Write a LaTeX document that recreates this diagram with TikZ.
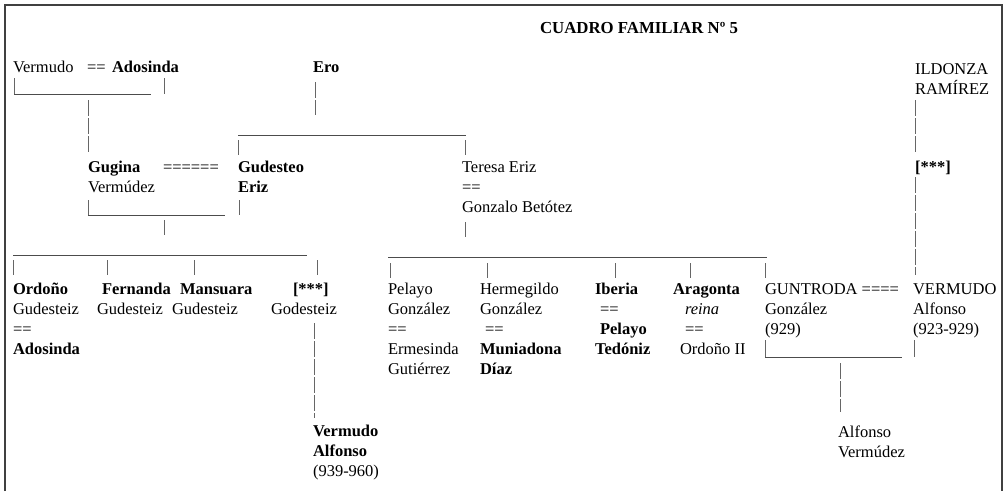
\documentclass[tikz,border=0pt]{standalone}
\usepackage{fontspec}
\setmainfont{Liberation Serif}
\begin{document}
\begin{tikzpicture}[x=1pt,y=-1pt,
  % multi-line nodes are placed by the baseline of their last line
  txt/.style={anchor=base west, inner sep=0pt, outer sep=0pt, align=left,
    font=\fontsize{16.5}{20}\selectfont, text=black},
  bold/.style={txt, font=\fontsize{16.5}{20}\selectfont\bfseries},
  bar/.style={line width=0.8pt, draw=black!70},
  tick/.style={line width=0.7pt, draw=black!60},
  ticks/.style={tick, dash pattern=on 16pt off 2pt},
  frame/.style={line width=1.3pt, draw=black!75}]
\useasboundingbox (0,0) rectangle (1008,491);

% open frame
\coordinate (fbl) at (5,491);
\coordinate (ftl) at (5,5);
\coordinate (ftr) at (1002,5);
\coordinate (fbr) at (1002,491);
\draw[frame] (fbl) -- (ftl) -- (ftr) -- (fbr);

% title
\node[txt, font=\fontsize{16.8}{20}\selectfont\bfseries] (title) at (540,33) {CUADRO FAMILIAR Nº 5};

% first generation
\node[txt]  (vermudo)  at (13,72)  {Vermudo};
\node[txt]  (eqA)      at (87,72)  {==};
\node[bold] (adosinda) at (112,72) {Adosinda};
\node[bold] (ero)      at (313,72) {Ero};
\node[txt]  (ildonza)  at (915,94) {ILDONZA\\RAMÍREZ};

% second generation
\node[txt]  (gugina)   at (88,192)  {\textbf{Gugina}\\Vermúdez};
\node[txt]  (eqB)      at (163,172) {======};
\node[bold] (gudesteo) at (238,192) {Gudesteo\\Eriz};
\node[txt]  (teresa)   at (462,212) {Teresa Eriz\\==\\Gonzalo Betótez};
\node[bold] (anonR)    at (915,172) {[***]};

% third generation
\node[txt] (ordono)   at (13,354)  {\textbf{Ordoño}\\Gudesteiz\\==\\\textbf{Adosinda}};
\node[txt] (fernanda) at (97,314)  {\hspace*{5pt}\textbf{Fernanda}\\Gudesteiz};
\node[txt] (mansuara) at (172,314) {\hspace*{8pt}\textbf{Mansuara}\\Gudesteiz};
\node[txt] (anonL)    at (271,314) {\hspace*{22pt}\textbf{[***]}\\Godesteiz};
\node[bold] (vermudoA) at (313,476) {Vermudo\\Alfonso\\\mdseries(939-960)};

\node[txt] (pelayo)     at (388,374) {Pelayo\\González\\==\\Ermesinda\\Gutiérrez};
\node[txt] (hermegildo) at (480,374) {Hermegildo\\González\\\hspace*{5pt}==\\\textbf{Muniadona}\\\textbf{Díaz}};
\node[txt] (iberia)     at (595,354) {\textbf{Iberia}\\\hspace*{5pt}==\\\hspace*{5pt}\textbf{Pelayo}\\\textbf{Tedóniz}};
\node[txt] (aragonta)   at (673,354) {\textbf{Aragonta}\\\hspace*{12pt}\textit{reina}\\\hspace*{12pt}==\\\hspace*{7pt}Ordoño II};
\node[txt] (guntroda)   at (765,334) {GUNTRODA ====\\González\\(929)};
\node[txt] (vermudoB)   at (913,334) {VERMUDO\\Alfonso\\(923-929)};
\node[txt] (alfonso)    at (838,457) {Alfonso\\Vermúdez};

% Vermudo == Adosinda
\coordinate (a1) at (14,78);  \coordinate (a2) at (14,94);
\coordinate (a3) at (151,94); \coordinate (a4) at (164,78); \coordinate (a5) at (164,94);
\draw[tick] (a1) -- (a2);
\draw[bar] (a2) -- (a3);
\draw[tick] (a4) -- (a5);
\coordinate (a6) at (88,100); \coordinate (a7) at (88,152);
\draw[ticks] (a6) -- (a7);

% Ero and children
\coordinate (e1) at (315,82); \coordinate (e2) at (315,115);
\draw[ticks] (e1) -- (e2);
\coordinate (e3) at (238,135); \coordinate (e4) at (466,135);
\draw[bar] (e3) -- (e4);
\coordinate (e5) at (238,140); \coordinate (e6) at (238,155);
\coordinate (e7) at (465,140); \coordinate (e8) at (465,155);
\draw[tick] (e5) -- (e6);
\draw[tick] (e7) -- (e8);

% Gugina == Gudesteo
\coordinate (g1) at (88,200);  \coordinate (g2) at (88,215);
\coordinate (g3) at (225,215); \coordinate (g4) at (239,200); \coordinate (g5) at (239,215);
\draw[tick] (g1) -- (g2);
\draw[bar] (g2) -- (g3);
\draw[tick] (g4) -- (g5);
\coordinate (g6) at (164,220); \coordinate (g7) at (164,235);
\draw[tick] (g6) -- (g7);

% Teresa == Gonzalo
\coordinate (t1) at (465,222); \coordinate (t2) at (465,237);
\draw[tick] (t1) -- (t2);

% Ildonza line
\coordinate (i1) at (915,100); \coordinate (i2) at (915,153);
\coordinate (i3) at (915,177); \coordinate (i4) at (915,275);
\draw[ticks] (i1) -- (i2);
\draw[ticks] (i3) -- (i4);

% children of Gugina and Gudesteo
\coordinate (l1) at (13,255); \coordinate (l2) at (307,255);
\draw[bar] (l1) -- (l2);
\foreach \x [count=\i] in {13,107,194,317} {
  \coordinate (lt\i a) at (\x,260);
  \coordinate (lt\i b) at (\x,275);
  \draw[tick] (lt\i a) -- (lt\i b);
}
\coordinate (v1) at (314,323); \coordinate (v2) at (314,418);
\draw[ticks] (v1) -- (v2);

% children of Teresa and Gonzalo
\coordinate (r1) at (388,257); \coordinate (r2) at (767,257);
\draw[bar] (r1) -- (r2);
\foreach \x [count=\i] in {390,487,615,690,765} {
  \coordinate (rt\i a) at (\x,263);
  \coordinate (rt\i b) at (\x,278);
  \draw[tick] (rt\i a) -- (rt\i b);
}

% Guntroda == Vermudo
\coordinate (u1) at (765,340); \coordinate (u2) at (765,357);
\coordinate (u3) at (902,357); \coordinate (u4) at (914,340); \coordinate (u5) at (914,357);
\draw[tick] (u1) -- (u2);
\draw[bar] (u2) -- (u3);
\draw[tick] (u4) -- (u5);
\coordinate (u6) at (840,363); \coordinate (u7) at (840,412);
\draw[ticks] (u6) -- (u7);
\end{tikzpicture}
\end{document}
